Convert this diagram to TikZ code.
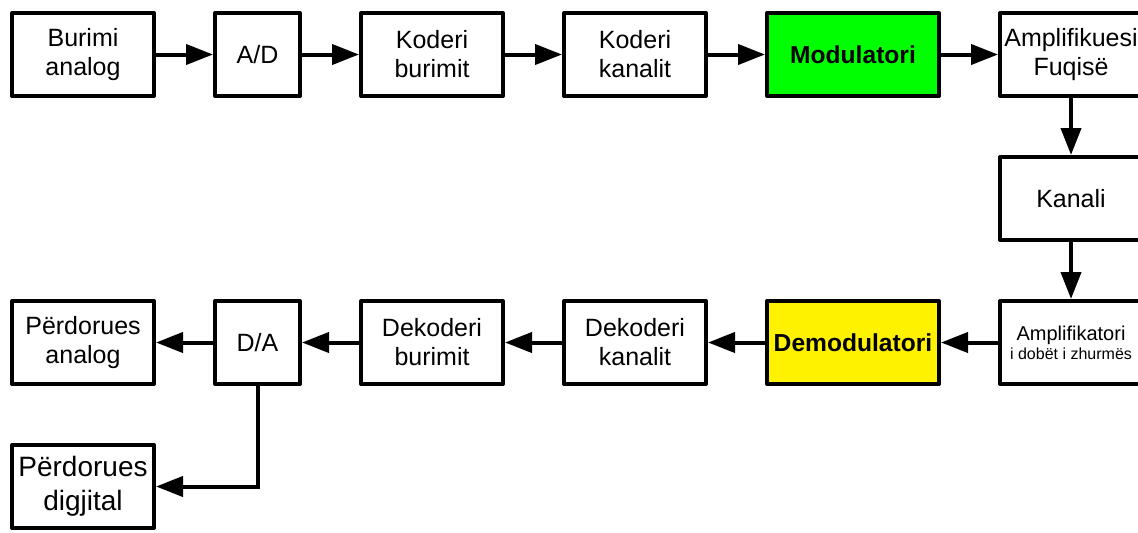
\documentclass[tikz,border=0pt]{standalone}
\usepackage{fontspec}
\setmainfont{Liberation Sans}
\usetikzlibrary{positioning,arrows.meta}

\tikzset{
	blk/.style={draw, line width=2pt, line join=round, minimum width=71pt, minimum height=41.5pt,
		inner sep=0pt, align=center, font=\fontsize{12.5}{14.5}\selectfont},
	sblk/.style={blk, minimum width=42.5pt},
	wblk/.style={blk, minimum width=86pt, font=\fontsize{12.3}{14.5}\selectfont\bfseries},
	arr/.style={line width=2pt, -{Triangle[length=13.5pt,width=10pt]}},
}

\begin{document}
\begin{tikzpicture}[node distance=28.5pt]
	\clip (0,0) rectangle (569pt,266pt);
	% transmitter
	\node[blk] (burimi) at (41.5pt,238.75pt) {Burimi\\analog};
	\node[sblk, right=of burimi] (ad) {A/D};
	\node[blk, right=of ad] (kodb) {Koderi\\burimit};
	\node[blk, right=of kodb] (kodk) {Koderi\\kanalit};
	\node[wblk, fill=green, right=of kodk] (mod) {Modulatori};
	\node[blk, right=of mod] (ampf) {Amplifikuesi\\Fuqisë};
	\node[blk, below=of ampf] (kanali) {Kanali};
	% receiver
	\node[blk, below=of kanali, font=\fontsize{10}{9.5}\selectfont] (ampl) {Amplifikatori\\{\fontsize{8}{9.5}\selectfont i dobët i zhurmës}};
	\node[wblk, fill=yellow, left=of ampl] (demod) {Demodulatori};
	\node[blk, left=of demod] (dekk) {Dekoderi\\kanalit};
	\node[blk, left=of dekk] (dekb) {Dekoderi\\burimit};
	\node[sblk, left=of dekb] (da) {D/A};
	\node[blk, left=of da] (prdan) {Përdorues\\analog};
	\node[blk, below=of prdan, font=\fontsize{14}{17}\selectfont] (prddig) {Përdorues\\digjital};

	\draw[arr] (burimi) -- (ad);
	\draw[arr] (ad) -- (kodb);
	\draw[arr] (kodb) -- (kodk);
	\draw[arr] (kodk) -- (mod);
	\draw[arr] (mod) -- (ampf);
	\draw[arr] (ampf) -- (kanali);
	\draw[arr] (kanali) -- (ampl);
	\draw[arr] (ampl) -- (demod);
	\draw[arr] (demod) -- (dekk);
	\draw[arr] (dekk) -- (dekb);
	\draw[arr] (dekb) -- (da);
	\draw[arr] (da) -- (prdan);
	\draw[arr] (da.south) |- (prddig);
\end{tikzpicture}
\end{document}
